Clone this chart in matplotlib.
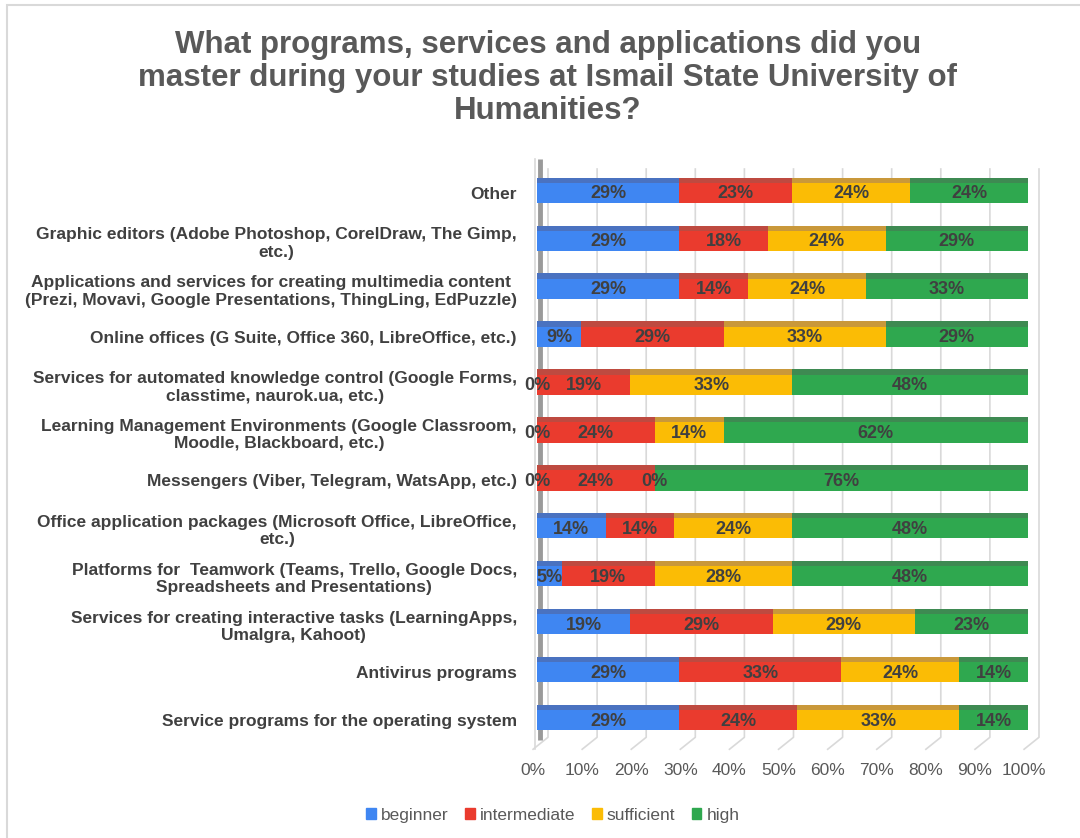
import matplotlib
matplotlib.use("Agg")
import matplotlib.pyplot as plt
from matplotlib.patches import Rectangle
import matplotlib.transforms as mtransforms
import numpy as np

plt.rcParams['font.family'] = ['Liberation Sans', 'DejaVu Sans']

categories = [
    "Service programs for the operating system",
    "Antivirus programs",
    "Services for creating interactive tasks (LearningApps,\nUmaIgra, Kahoot)",
    "Platforms for  Teamwork (Teams, Trello, Google Docs,\nSpreadsheets and Presentations)",
    "Office application packages (Microsoft Office, LibreOffice,\netc.)",
    "Messengers (Viber, Telegram, WatsApp, etc.)",
    "Learning Management Environments (Google Classroom,\nMoodle, Blackboard, etc.)",
    "Services for automated knowledge control (Google Forms,\nclasstime, naurok.ua, etc.)",
    "Online offices (G Suite, Office 360, LibreOffice, etc.)",
    "Applications and services for creating multimedia content\n(Prezi, Movavi, Google Presentations, ThingLing, EdPuzzle)",
    "Graphic editors (Adobe Photoshop, CorelDraw, The Gimp,\netc.)",
    "Other",
]
beginner     = [29, 29, 19,  5, 14,  0,  0,  0,  9, 29, 29, 29]
intermediate = [24, 33, 29, 19, 14, 24, 24, 19, 29, 14, 18, 23]
sufficient   = [33, 24, 29, 28, 24,  0, 14, 33, 33, 24, 24, 24]
high         = [14, 14, 23, 48, 48, 76, 62, 48, 29, 33, 29, 24]
series_names = ["beginner", "intermediate", "sufficient", "high"]
x_ticks = [0, 10, 20, 30, 40, 50, 60, 70, 80, 90, 100]

colors = ["#3F86F2", "#EA3B2E", "#FBBC05", "#2FA84F"]
top_colors = ["#4A72C0", "#BE4A40", "#C9983A", "#3E8A52"]
side_colors = ["#2E5FB0", "#A8302A", "#B88A10", "#24773A"]

W, H = 1080, 838
fig = plt.figure(figsize=(W / 100, H / 100), dpi=100)
fig.patch.set_facecolor("white")

# chart frame
fig.add_artist(Rectangle((7 / W, -0.01), 1.1, (H - 5) / H + 0.01, transform=fig.transFigure,
                         fill=False, edgecolor="#D9D9D9", linewidth=1.5))

ax_l, ax_r, ax_t, ax_b = 537, 1028, 169, 744
ax = fig.add_axes([ax_l / W, 1 - ax_b / H, (ax_r - ax_l) / W, (ax_b - ax_t) / H])
ax.set_xlim(0, 100)
ax.set_ylim(-0.5, len(categories) - 0.5)

# back-wall gridlines with 3D floor diagonals
depth_x = 2.24
y_back = -0.36
y_front = -0.61
for t in x_ticks:
    ax.plot([t + depth_x, t + depth_x, t - 0.8], [len(categories) - 0.5, y_back, y_front],
            color="#D9D9D9", linewidth=1.2, zorder=0, clip_on=False)

# left wall
ax.plot([0.6, 0.6], [len(categories) - 0.3, y_back - 0.05], color="#9A9A9A",
        linewidth=3.5, zorder=1, clip_on=False, solid_capstyle="butt")
ax.plot([-0.4, -0.4], [len(categories) - 0.3, y_front], color="#D9D9D9",
        linewidth=1.2, zorder=1, clip_on=False)

y = np.arange(len(categories))
data = [beginner, intermediate, sufficient, high]
bh = 0.42
th = 0.11
left = np.zeros(len(categories))
for i, vals in enumerate(data):
    vals = np.array(vals, dtype=float)
    ax.barh(y, vals, left=left, height=bh, color=colors[i], edgecolor="none", zorder=3,
            label=series_names[i])
    ax.barh(y + bh / 2 + th / 2, vals, left=left, height=th, color=top_colors[i],
            edgecolor="none", zorder=3)
    for yi, v, l in zip(y, vals, left):
        ax.text(l + v / 2, yi - 0.02, f"{int(v)}%", ha="center", va="center",
                fontsize=13, fontweight="bold", color="#404040", zorder=5)
    left = left + vals

# right side face of the bars
ax.barh(y + th / 2, [1.2] * len(y), left=left, height=bh + th * 0.6,
        color=side_colors[3], edgecolor="none", zorder=2)

ax.set_xticks(x_ticks)
ax.set_xticklabels([f"{t}%" for t in x_ticks], fontsize=12.5, color="#595959")
ax.tick_params(axis="x", length=0, pad=14)
shift = mtransforms.ScaledTranslation(-4 / 100, 0, fig.dpi_scale_trans)
for lab in ax.get_xticklabels():
    lab.set_transform(lab.get_transform() + shift)
ax.set_yticks(y)
ax.set_yticklabels(categories, fontsize=12.5, fontweight="bold", color="#404040",
                   multialignment="center")
ax.tick_params(axis="y", length=0, pad=14.5)

for s in ax.spines.values():
    s.set_visible(False)

fig.text(548 / W, 1 - 78 / H,
         "What programs, services and applications did you\nmaster during your studies at Ismail State University of\nHumanities?",
         ha="center", va="center", fontsize=22.5, fontweight="bold", color="#595959",
         linespacing=1.11)

handles = [Rectangle((0, 0), 1, 1, color=c) for c in colors]
fig.legend(handles, series_names, loc="center", bbox_to_anchor=(553 / W, 1 - 815 / H),
           ncol=4, frameon=False, fontsize=12.5, labelcolor="#595959",
           handlelength=0.55, handleheight=0.55, handletextpad=0.3, columnspacing=0.95)

fig.savefig("out.png", dpi=100)
